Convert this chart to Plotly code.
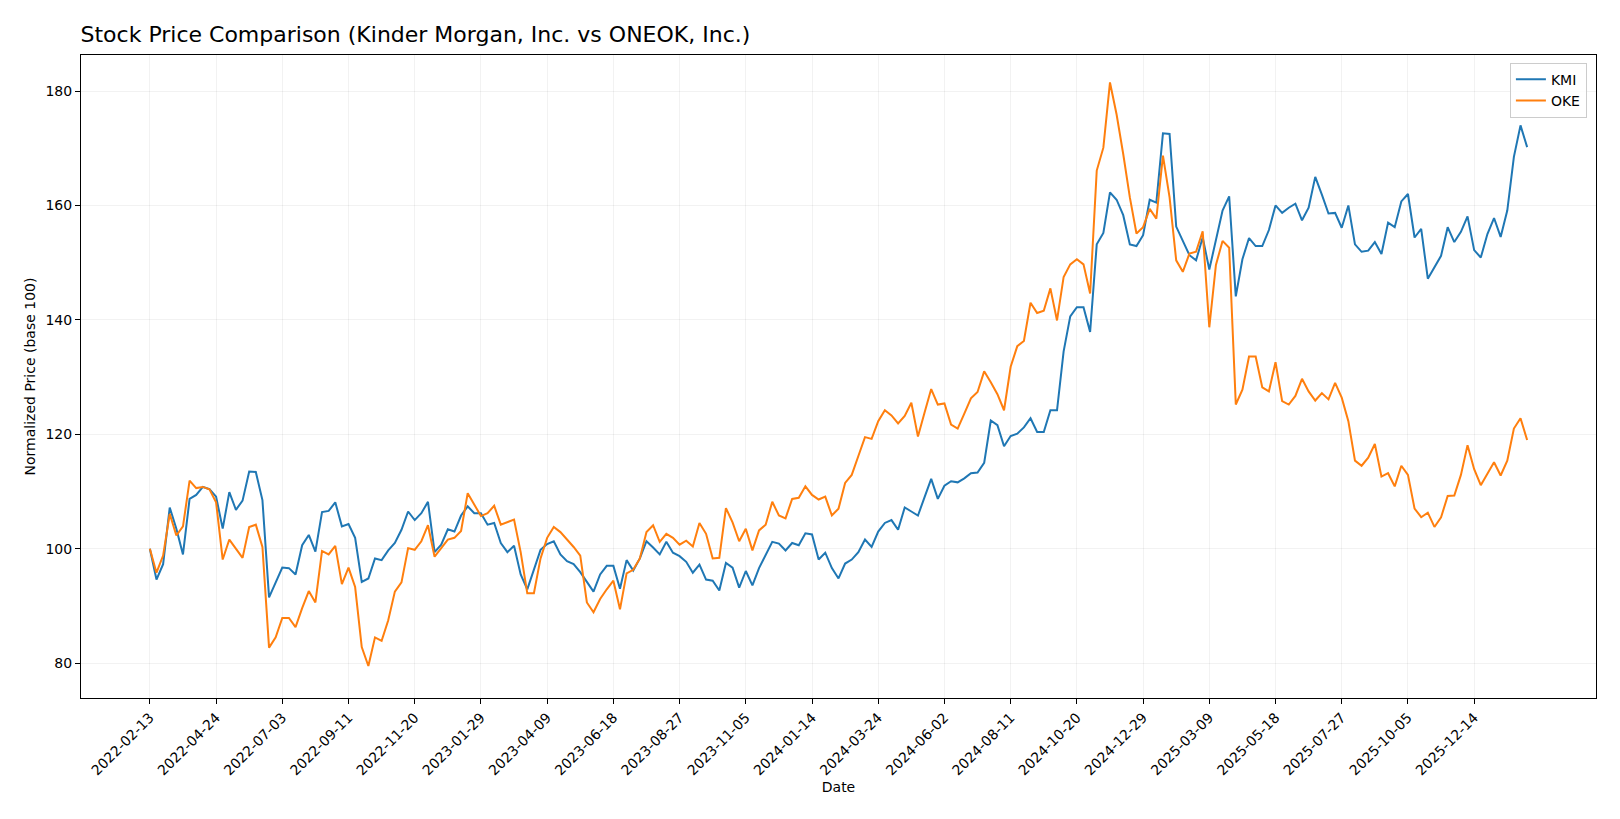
import pandas as pd
import plotly.graph_objs as go

START_DATE = '2022-02-13'

kmi_values = [
    100.0, 94.6, 97.3, 107.2, 103.5, 99.0, 108.7, 109.4, 110.8, 110.4,
    109.1, 103.5, 109.9, 106.8, 108.4, 113.5, 113.4, 108.5, 91.5, 94.0,
    96.7, 96.6, 95.5, 100.6, 102.4, 99.5, 106.4, 106.6, 108.1, 103.9,
    104.3, 101.9, 94.2, 94.8, 98.3, 98.0, 99.7, 101.0, 103.3, 106.5,
    105.0, 106.2, 108.2, 99.4, 100.7, 103.4, 103.0, 105.8, 107.4, 106.2,
    106.2, 104.2, 104.5, 101.0, 99.4, 100.5, 95.5, 92.9, 96.2, 99.8,
    100.8, 101.3, 99.0, 97.8, 97.3, 95.9, 94.2, 92.5, 95.5, 97.0,
    97.0, 93.0, 98.0, 96.2, 98.3, 101.3, 100.2, 99.0, 101.2, 99.3,
    98.7, 97.7, 95.8, 97.2, 94.6, 94.4, 92.7, 97.5, 96.7, 93.2,
    96.1, 93.6, 96.6, 99.0, 101.2, 100.9, 99.7, 101.0, 100.6, 102.7,
    102.5, 98.1, 99.3, 96.6, 94.8, 97.4, 98.1, 99.4, 101.6, 100.3,
    103.0, 104.5, 105.0, 103.3, 107.2, 106.5, 105.8, 109.0, 112.2, 108.7,
    111.0, 111.8, 111.6, 112.3, 113.2, 113.3, 115.0, 122.4, 121.6, 117.9,
    119.7, 120.1, 121.2, 122.8, 120.4, 120.4, 124.2, 124.2, 134.5, 140.6,
    142.2, 142.2, 137.9, 153.2, 155.2, 162.3, 161.0, 158.3, 153.2, 152.9,
    154.8, 161.0, 160.5, 172.6, 172.5, 156.3, 153.9, 151.3, 150.4, 154.4,
    148.8, 153.9, 159.1, 161.6, 144.1, 150.6, 154.3, 152.9, 152.9, 155.7,
    160.0, 158.7, 159.6, 160.3, 157.4, 159.6, 165.0, 161.9, 158.6, 158.7,
    156.1, 160.0, 153.2, 151.9, 152.1, 153.6, 151.5, 157.0, 156.2, 160.7,
    162.0, 154.4, 155.9, 147.2, 149.3, 151.2, 156.2, 153.6, 155.4, 158.1,
    152.2, 150.9, 155.0, 157.8, 154.5, 159.1, 168.5, 174.0, 170.2,
]

oke_values = [
    100.0, 95.8, 98.8, 106.1, 102.3, 103.9, 111.9, 110.6, 110.8, 110.4,
    108.1, 98.1, 101.6, 100.1, 98.4, 103.8, 104.2, 100.3, 82.7, 84.5,
    87.9, 87.9, 86.3, 89.6, 92.6, 90.6, 99.6, 99.0, 100.5, 93.8,
    96.7, 93.3, 82.8, 79.5, 84.5, 83.9, 87.5, 92.5, 94.1, 100.1,
    99.8, 101.3, 104.1, 98.6, 100.1, 101.6, 101.9, 103.1, 109.7, 107.8,
    105.7, 106.2, 107.5, 104.2, 104.6, 105.1, 99.4, 92.2, 92.2, 98.3,
    101.9, 103.8, 102.9, 101.6, 100.3, 98.8, 90.6, 88.9, 91.2, 92.9,
    94.4, 89.4, 95.7, 96.3, 98.3, 102.9, 104.1, 101.2, 102.6, 101.9,
    100.7, 101.4, 100.4, 104.5, 102.6, 98.3, 98.4, 107.1, 104.6, 101.3,
    103.5, 99.7, 103.2, 104.2, 108.2, 105.8, 105.3, 108.7, 108.9, 110.9,
    109.4, 108.6, 109.1, 105.8, 107.0, 111.5, 112.9, 116.2, 119.5, 119.2,
    122.3, 124.2, 123.3, 121.9, 123.2, 125.5, 119.6, 123.8, 127.9, 125.2,
    125.4, 121.7, 121.0, 123.6, 126.3, 127.4, 131.0, 129.1, 127.0, 124.2,
    131.8, 135.4, 136.3, 143.0, 141.2, 141.6, 145.5, 139.9, 147.5, 149.7,
    150.6, 149.7, 144.6, 166.1, 170.1, 181.5, 175.9, 169.0, 161.4, 155.1,
    156.2, 159.4, 157.7, 168.7, 161.4, 150.4, 148.4, 151.6, 151.9, 155.5,
    138.7, 149.6, 153.8, 152.6, 125.2, 127.8, 133.6, 133.6, 128.2, 127.5,
    132.6, 125.8, 125.2, 126.7, 129.7, 127.5, 125.9, 127.2, 126.1, 129.0,
    126.4, 122.3, 115.4, 114.5, 115.9, 118.3, 112.6, 113.2, 110.9, 114.5,
    112.9, 107.0, 105.5, 106.3, 103.8, 105.5, 109.2, 109.3, 112.9, 118.1,
    113.9, 111.1, 113.0, 115.1, 112.8, 115.4, 121.0, 122.8, 119.0,
]

series_names = ['KMI', 'OKE']
series_colors = ['#1f77b4', '#ff7f0e']
y_tick_values = [80, 100, 120, 140, 160, 180]

FONT = 'DejaVu Sans, Liberation Sans, sans-serif'
# the page body keeps its default 8px margin, so the figure is 16px smaller
FIG_W, FIG_H = 1604, 803


def build_traces(dates):
    traces = []
    for name, values, color in zip(series_names, [kmi_values, oke_values], series_colors):
        traces.append(go.Scatter(x=dates,
                                 y=values,
                                 mode='lines',
                                 name=name,
                                 line=dict(color=color, width=2)))
    return traces


def build_layout(dates):
    tick_dates = pd.date_range(START_DATE, dates[-1], freq='70D')
    pad = pd.Timedelta(days=(dates[-1] - dates[0]).days * 0.05)
    axis_common = dict(showline=True, linecolor='black', linewidth=1, mirror=True,
                       ticks='outside', ticklen=5, tickcolor='black',
                       showgrid=True, gridcolor='rgba(0,0,0,0.05)', gridwidth=1,
                       zeroline=False, tickfont=dict(size=14, color='black'))
    return go.Layout(
        width=FIG_W,
        height=FIG_H,
        font=dict(family=FONT, size=14, color='black'),
        paper_bgcolor='white',
        plot_bgcolor='white',
        margin=dict(l=73, r=16, t=47, b=113),
        title=dict(text='Stock Price Comparison (Kinder Morgan, Inc. vs ONEOK, Inc.)',
                   x=72.5 / FIG_W, xanchor='left', xref='container',
                   y=1 - 26 / FIG_H, yanchor='middle', yref='container',
                   font=dict(size=22, color='black')),
        xaxis=dict(axis_common,
                   range=[dates[0] - pad, dates[-1] + pad],
                   tickvals=list(tick_dates),
                   ticktext=[d.strftime('%Y-%m-%d') for d in tick_dates],
                   tickangle=-45,
                   title=dict(text='Date', font=dict(size=14), standoff=4)),
        yaxis=dict(axis_common,
                   range=[73.9, 186.3],
                   tickvals=y_tick_values,
                   title=dict(text='Normalized Price (base 100)', font=dict(size=14), standoff=6)),
        legend=dict(x=0.994, y=0.988, xanchor='right', yanchor='top',
                    bgcolor='rgba(255,255,255,0.8)', bordercolor='#cccccc', borderwidth=1,
                    font=dict(size=14)),
        showlegend=True)


dates = pd.date_range(START_DATE, periods=len(kmi_values), freq='7D')
fig = go.Figure(data=build_traces(dates), layout=build_layout(dates))
fig.write_html('out.html')
